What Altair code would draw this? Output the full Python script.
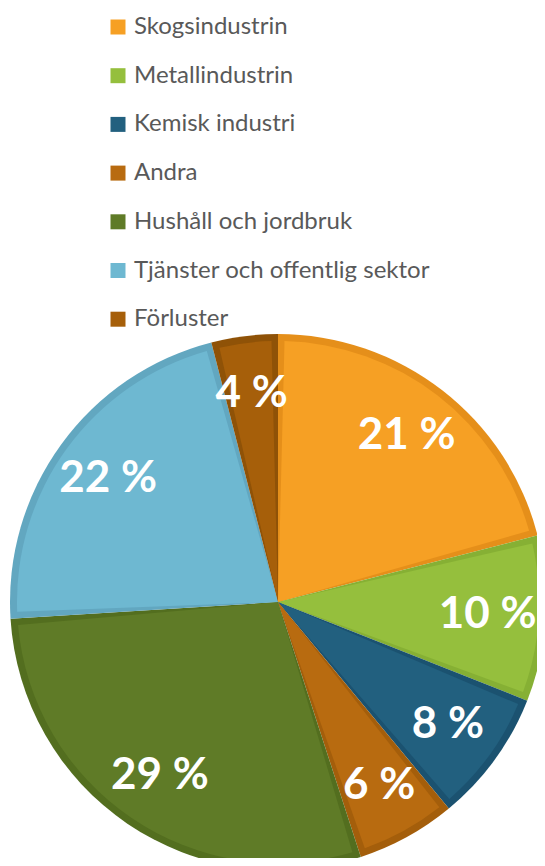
import altair as alt
import pandas as pd

categories = ["Skogsindustrin", "Metallindustrin", "Kemisk industri", "Andra",
              "Hushåll och jordbruk", "Tjänster och offentlig sektor", "Förluster"]
shares = [21, 10, 8, 6, 29, 22, 4]
labels = ["21 %", "10 %", "8 %", "6 %", "29 %", "22 %", "4 %"]
fill_colors = ["#F6A024", "#95BF3D", "#22607F", "#B86B10", "#5F7B27", "#6EB8D1", "#A65F0A"]
edge_colors = ["#E58F1A", "#86B034", "#1B5270", "#A45E0B", "#536E1F", "#62A7C0", "#8F5207"]

df = pd.DataFrame({
    "category": categories,
    "share": shares,
    "label": labels,
    "edge": edge_colors,
    "order": list(range(len(categories))),
})

CX, CY, R = 270, 594, 268

base = alt.Chart(df).encode(
    theta=alt.Theta("share:Q", stack=True),
    order=alt.Order("order:Q"),
)

edge = base.mark_arc(radius=R, x=CX, y=CY).encode(
    color=alt.Color("edge:N", scale=None)
)

inner = base.mark_arc(radius=R - 7, padAngle=0.05, x=CX, y=CY).encode(
    color=alt.Color(
        "category:N",
        scale=alt.Scale(domain=categories, range=fill_colors),
        legend=alt.Legend(
            title=None,
            orient="none",
            legendX=98,
            legendY=7,
            symbolType="square",
            symbolSize=225,
            symbolStrokeWidth=0,
            labelFontSize=24,
            labelFont="Lato",
            labelColor="#595959",
            labelOffset=4,
            rowPadding=24.7,
            labelLimit=400,
        ),
    )
)

text = base.mark_text(
    radius=210, x=CX, y=CY, fontSize=44, fontWeight="bold", color="white", font="Lato"
).encode(text="label:N")

chart = (edge + inner + text).properties(
    width=529, height=850, autosize=alt.AutoSizeParams(type="none"), padding=0
).configure_view(stroke=None).configure(background="white")

chart.save("out.html", embed_options={"renderer": "svg", "actions": False})
